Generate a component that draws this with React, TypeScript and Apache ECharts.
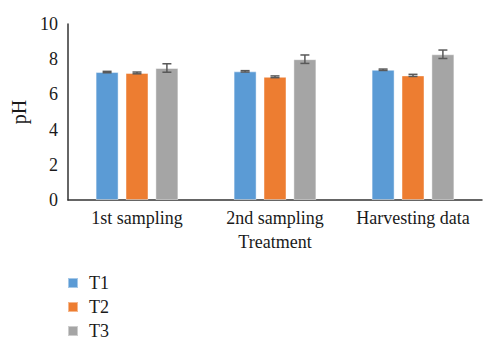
import React, { useEffect, useRef } from "react";
import * as echarts from "echarts";

const categories = ["1st sampling", "2nd sampling", "Harvesting data"];
const seriesNames = ["T1", "T2", "T3"];
const t1Values = [7.27, 7.31, 7.4];
const t2Values = [7.22, 7.0, 7.08];
const t3Values = [7.5, 8.0, 8.28];
const t1Errors = [0.04, 0.04, 0.04];
const t2Errors = [0.05, 0.05, 0.06];
const t3Errors = [0.24, 0.24, 0.24];
const yTicks = [0, 2, 4, 6, 8, 10];

const colors = ["#5B9BD5", "#ED7D31", "#A5A5A5"];
const FONT = "Liberation Serif";

export default function App() {
  const ref = useRef<HTMLDivElement>(null);
  useEffect(() => {
    if (!ref.current) return;
    const chart = echarts.init(ref.current, undefined, { renderer: "svg" });
    const values = [t1Values, t2Values, t3Values];
    const errors = [t1Errors, t2Errors, t3Errors];

    const barSeries = seriesNames.map((name, i) => ({
      name,
      type: "bar",
      data: values[i],
      barGap: "30%",
      barCategoryGap: "40%",
      itemStyle: { color: colors[i], borderColor: "rgba(255,255,255,0.45)", borderWidth: 1 },
      z: 2,
    }));

    const errSeries = seriesNames.map((name, i) => ({
      name: name + "_err",
      type: "custom",
      z: 5,
      silent: true,
      data: values[i].map((v, k) => [k, v - errors[i][k], v + errors[i][k]]),
      renderItem: (params: any, api: any) => {
        const cat = api.value(0);
        const lo = api.coord([cat, api.value(1)]);
        const hi = api.coord([cat, api.value(2)]);
        const bw = api.size([1, 0])[0];
        const barW = bw / 6;
        const x = lo[0] + (i - 1) * barW * 1.3;
        const cap = 4.5;
        const style = { stroke: "#595959", lineWidth: 1.5, fill: "none" };
        return {
          type: "group",
          children: [
            { type: "line", shape: { x1: x, y1: lo[1], x2: x, y2: hi[1] }, style },
            { type: "line", shape: { x1: x - cap, y1: lo[1], x2: x + cap, y2: lo[1] }, style },
            { type: "line", shape: { x1: x - cap, y1: hi[1], x2: x + cap, y2: hi[1] }, style },
          ],
        };
      },
    }));

    chart.setOption({
      animation: false,
      textStyle: { fontFamily: FONT },
      grid: { left: 68, right: 18, top: 24, bottom: 153 },
      legend: {
        data: seriesNames,
        orient: "vertical",
        left: 67,
        top: 274,
        height: 79,
        padding: 0,
        itemWidth: 10,
        itemHeight: 10,
        itemGap: 6,
        icon: "rect",
        textStyle: { fontFamily: FONT, fontSize: 18, lineHeight: 18, color: "#1a1a1a", padding: [0, 0, 0, 6] },
      },
      xAxis: {
        type: "category",
        data: categories,
        name: "Treatment",
        nameLocation: "middle",
        nameGap: 33,
        nameTextStyle: { fontFamily: FONT, fontSize: 18, color: "#1a1a1a" },
        axisLine: { lineStyle: { color: "#333", width: 1.5 } },
        axisTick: { show: false },
        axisLabel: { fontFamily: FONT, fontSize: 18, color: "#1a1a1a", margin: 9, interval: 0, hideOverlap: false },
      },
      yAxis: {
        type: "value",
        min: yTicks[0],
        max: yTicks[yTicks.length - 1],
        interval: 2,
        name: "pH",
        nameLocation: "middle",
        nameGap: 28,
        nameTextStyle: { fontFamily: FONT, fontSize: 20, color: "#1a1a1a" },
        axisLine: { show: true, lineStyle: { color: "#333", width: 1.5 } },
        axisTick: { show: false },
        splitLine: { show: false },
        axisLabel: { fontFamily: FONT, fontSize: 18, color: "#1a1a1a", margin: 10 },
      },
      series: [...barSeries, ...errSeries],
    });
    return () => chart.dispose();
  }, []);
  return (
    <div
      ref={ref}
      style={{ position: "fixed", left: 0, top: 0, width: 500, height: 353, background: "#fff" }}
    />
  );
}
